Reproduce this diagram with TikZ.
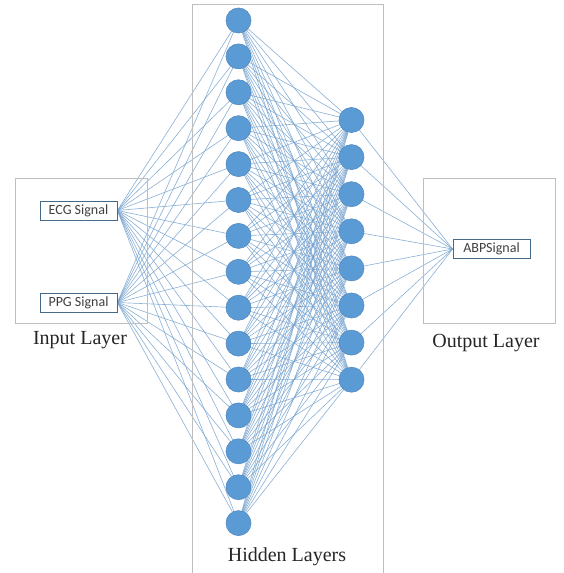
\documentclass[tikz,border=0pt]{standalone}
\usepackage{fontspec}
\setmainfont{Liberation Serif}
\newfontfamily\calib{Carlito}
\usetikzlibrary{backgrounds}
\definecolor{nodeblue}{RGB}{91,155,213}
\definecolor{nodeedge}{RGB}{80,135,190}
\definecolor{linkblue}{RGB}{118,163,208}
\definecolor{boxgray}{RGB}{190,190,190}
\definecolor{sigedge}{RGB}{70,105,135}
\tikzset{
  neuron/.style={circle,fill=nodeblue,draw=nodeedge,line width=0.4pt,minimum size=18.8pt,inner sep=0pt},
  sigbox/.style={draw=sigedge,line width=0.6pt,fill=white,minimum width=57.75pt,minimum height=14.25pt,inner sep=0pt,font=\calib\fontsize{10.5}{12}\selectfont,text=black!75},
  layerbox/.style={draw=boxgray,line width=0.7pt},
  link/.style={draw=linkblue,line width=0.45pt,opacity=0.85},
  laylabel/.style={font=\fontsize{15}{17}\selectfont,text=black!85}
}
\begin{document}
\begin{tikzpicture}[x=0.75pt,y=-0.75pt]
\useasboundingbox (0,0) rectangle (563,573);
% layer boxes
\draw[layerbox] (15,178) rectangle (147,323);
\draw[layerbox] (192,4) rectangle (383,573);
\draw[layerbox] (423,178) rectangle (555,323);
% hidden layer 1
\foreach \i in {1,...,15} {
  \node[neuron] (h1-\i) at (238.5,{20.5+(\i-1)*35.9}) {};
}
% hidden layer 2
\foreach \j in {1,...,8} {
  \node[neuron] (h2-\j) at (351.5,{120+(\j-1)*37.1}) {};
}
% signal boxes
\node[sigbox] (ecg) at (78.5,210.5) {ECG Signal};
\node[sigbox] (ppg) at (78.5,302.5) {PPG Signal};
\node[sigbox] (abp) at (491.5,249) {ABPSignal};
% labels
\node[laylabel] (inlab) at (80,340) {Input Layer};
\node[laylabel] (outlab) at (486,343) {Output Layer};
\node[laylabel] (hidlab) at (287,557) {Hidden Layers};
% connections
\begin{scope}[on background layer]
\fill[white] (0,0) rectangle (563,573);
\foreach \i in {1,...,15} {
  \draw[link] (ecg.east) -- (h1-\i.center);
  \draw[link] (ppg.east) -- (h1-\i.center);
  \foreach \j in {1,...,8} {
    \draw[link] (h1-\i.center) -- (h2-\j.center);
  }
}
\foreach \j in {1,...,8} {
  \draw[link] (h2-\j.center) -- (abp.west);
}
\end{scope}
\end{tikzpicture}
\end{document}
